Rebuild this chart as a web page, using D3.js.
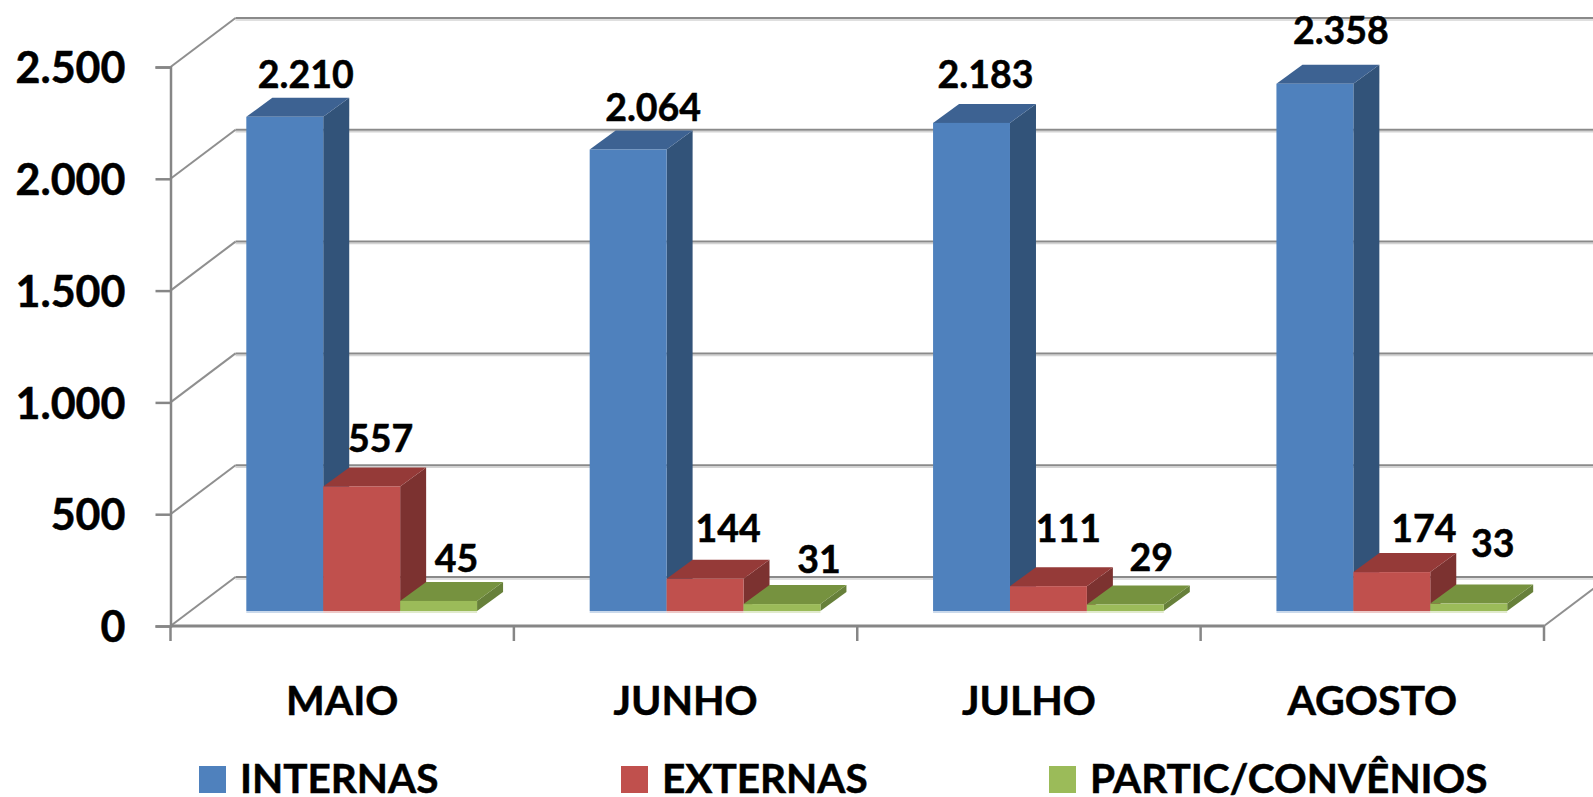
<!DOCTYPE html>
<html>
<head>
<meta charset="utf-8">
<script src="https://cdn.jsdelivr.net/npm/d3@7"></script>
<style>
body { margin: 0; background: #fff; }
svg { display: block; }
text { font-family: Lato, "Open Sans", sans-serif; font-weight: 700; fill: #000; stroke: #000; stroke-width: 0.5px; }
</style>
</head>
<body>
<div id="chart"></div>
<script>
var categories = ["MAIO", "JUNHO", "JULHO", "AGOSTO"];
var seriesNames = ["INTERNAS", "EXTERNAS", "PARTIC/CONVÊNIOS"];
var internas = [2210, 2064, 2183, 2358];
var externas = [557, 144, 111, 174];
var partic = [45, 31, 29, 33];
var yTicks = [0, 500, 1000, 1500, 2000, 2500];

var seriesValues = [internas, externas, partic];
var front = ["#4f81bd", "#c0504d", "#9bbb59"];
var side = ["#325379", "#7c3230", "#67803a"];
var top3d = ["#3d6292", "#953a38", "#76923f"];

// label nudges, by series then month
var nudgeX = [[21, 25, 14, 26], [19, 23, 20, 32], [18, 37, 26, 24]];
var nudgeY = [[-29, -28, -35, -40], [-34, -37, -44, -30], [-29, -31, -34, -47]];

var width = 1593, height = 797;
var wallDx = 65, wallDy = -49;   // depth of the walls
var barDx = 26, barDy = -19;     // depth of a bar
var floorDx = 19.5, floorDy = -15; // where the bars stand on the floor
var left = 170.5, right = 1544, bottom = 626, upper = 67;

var locale = d3.formatLocale({decimal: ",", thousands: ".", grouping: [3], currency: ["", ""]});
var fmt = locale.format(",d");

var svg = d3.select("#chart").append("svg")
    .attr("width", width)
    .attr("height", height);

var x = d3.scaleBand().domain(categories).range([left, right]).paddingInner(0.328).paddingOuter(0.164);
var inner = d3.scaleBand().domain(d3.range(3)).range([0, x.bandwidth()]);
var y = d3.scaleLinear().domain([0, 2500]).range([bottom, upper]);

// back wall grid, side wall diagonals
var grid = svg.append("g");
grid.selectAll("line.shade")
    .data(yTicks)
    .enter()
    .append("line")
    .attr("x1", left + wallDx)
    .attr("x2", width)
    .attr("y1", function(d){return y(d) + wallDy + 2})
    .attr("y2", function(d){return y(d) + wallDy + 2})
    .attr("stroke", "#d4d4d4")
    .attr("stroke-width", 1.5);
grid.selectAll("line.back")
    .data(yTicks)
    .enter()
    .append("line")
    .attr("x1", left + wallDx)
    .attr("x2", width)
    .attr("y1", function(d){return y(d) + wallDy})
    .attr("y2", function(d){return y(d) + wallDy})
    .attr("stroke", "#8a8a8a")
    .attr("stroke-width", 2);
grid.selectAll("line.diag")
    .data(yTicks)
    .enter()
    .append("line")
    .attr("x1", left)
    .attr("x2", left + wallDx)
    .attr("y1", function(d){return y(d)})
    .attr("y2", function(d){return y(d) + wallDy})
    .attr("stroke", "#8f8f8f")
    .attr("stroke-width", 2);
grid.append("line")
    .attr("x1", right)
    .attr("x2", right + wallDx)
    .attr("y1", y(0))
    .attr("y2", y(0) + wallDy)
    .attr("stroke", "#8f8f8f")
    .attr("stroke-width", 2);

// axes
var yAxis = d3.axisLeft(y).tickValues(yTicks).tickFormat(fmt).tickSize(15).tickPadding(30);
var gy = svg.append("g").attr("transform", "translate(" + left + ",0)").call(yAxis);
gy.select(".domain").attr("stroke", "#868686").attr("stroke-width", 2.5);
gy.selectAll(".tick line").attr("stroke", "#868686").attr("stroke-width", 2.5);
gy.selectAll("text").style("font-size", "43px").attr("fill", "#000").attr("y", 2);

var xAxis = d3.axisBottom(x).tickSize(0).tickPadding(0);
var gx = svg.append("g").attr("transform", "translate(0," + y(0) + ")").call(xAxis);
gx.select(".domain").attr("d", "M" + left + ",0H" + right).attr("stroke", "#868686").attr("stroke-width", 3);
gx.selectAll("text")
    .style("font-size", "41px")
    .attr("fill", "#000")
    .attr("dy", null)
    .attr("y", 89);

// tick marks sit between the months
var edges = d3.range(5).map(function(i){return left + i * x.step()});
gx.selectAll("line.edge")
    .data(edges)
    .enter()
    .append("line")
    .attr("x1", function(d){return d})
    .attr("x2", function(d){return d})
    .attr("y1", 0)
    .attr("y2", 15)
    .attr("stroke", "#868686")
    .attr("stroke-width", 2.5);

// bars
function pts(a) {
    return a.map(function(p){return p.join(",")}).join(" ");
}

categories.forEach(function(cat, c) {
    var g = svg.append("g");
    seriesValues.forEach(function(vals, s) {
        var x0 = x(cat) + inner(s) + floorDx;
        var x1 = x0 + inner.bandwidth();
        var y0 = y(0) + floorDy;
        var y1 = y(vals[c]) + floorDy;
        g.append("rect")
            .attr("x", x0)
            .attr("y", y0)
            .attr("width", x1 - x0)
            .attr("height", 2)
            .attr("fill", front[s])
            .attr("opacity", 0.3);
        g.append("polygon")
            .attr("points", pts([[x1, y0], [x1 + barDx, y0 + barDy], [x1 + barDx, y1 + barDy], [x1, y1]]))
            .attr("fill", side[s]);
        g.append("polygon")
            .attr("points", pts([[x0, y1], [x0 + barDx, y1 + barDy], [x1 + barDx, y1 + barDy], [x1, y1]]))
            .attr("fill", top3d[s]);
        g.append("rect")
            .attr("x", x0)
            .attr("y", y1)
            .attr("width", x1 - x0)
            .attr("height", y0 - y1)
            .attr("fill", front[s]);
    });
});

// value labels
seriesValues.forEach(function(vals, s) {
    svg.selectAll("text.val" + s)
        .data(vals)
        .enter()
        .append("text")
        .attr("class", "val" + s)
        .attr("x", function(d, c){return x(categories[c]) + inner(s) + inner.bandwidth() / 2 + floorDx + nudgeX[s][c]})
        .attr("y", function(d, c){return y(d) + floorDy + nudgeY[s][c]})
        .attr("text-anchor", "middle")
        .style("font-size", "37.5px")
        .text(function(d){return fmt(d)});
});

// legend
var legendX = d3.scaleOrdinal().domain(seriesNames).range([199, 621, 1049]);
var legend = svg.selectAll("g.legend")
    .data(seriesNames)
    .enter()
    .append("g")
    .attr("class", "legend")
    .attr("transform", function(d){return "translate(" + legendX(d) + ",766)"});
legend.append("rect")
    .attr("width", 27)
    .attr("height", 27)
    .attr("fill", function(d, i){return front[i]});
legend.append("text")
    .attr("x", 41)
    .attr("y", 27)
    .style("font-size", "40.5px")
    .text(function(d){return d});
</script>
</body>
</html>
